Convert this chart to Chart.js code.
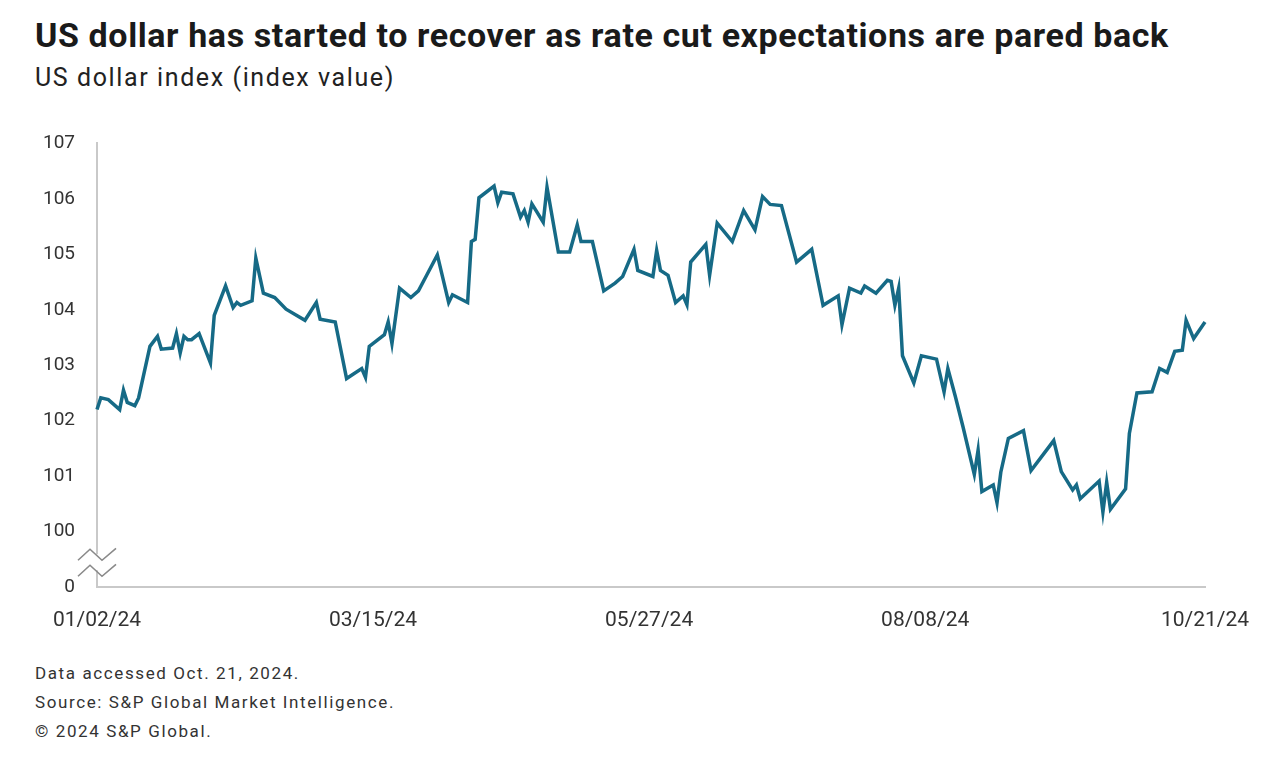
<!DOCTYPE html>
<html>
<head>
<meta charset="utf-8">
<script src="https://cdn.jsdelivr.net/npm/chart.js@4.4.1/dist/chart.umd.min.js"></script>
<style>
  html, body { margin: 0; padding: 0; background: #fff; }
  body { width: 1280px; height: 770px; position: relative; overflow: hidden; font-family: Roboto, "Liberation Sans", sans-serif; color: #1a1a1a; }
  #title { position: absolute; left: 35px; top: 15px; font-size: 34px; line-height: 40px; font-weight: 700; white-space: nowrap; letter-spacing: 0.6px; }
  #subtitle { position: absolute; left: 35px; top: 63px; font-size: 25px; line-height: 30px; font-weight: 400; color: #222; white-space: nowrap; letter-spacing: 1.6px; }
  #wrap { position: absolute; left: 0; top: 110px; width: 1280px; height: 540px; }
  #footer { position: absolute; left: 35px; top: 659px; font-size: 17px; line-height: 29px; color: #333; letter-spacing: 1.6px; }
</style>
</head>
<body>
<div id="title">US dollar has started to recover as rate cut expectations are pared back</div>
<div id="subtitle">US dollar index (index value)</div>
<div id="wrap"><canvas id="dxyChart"></canvas></div>
<div id="footer">
  Data accessed Oct. 21, 2024.<br>
  Source: S&amp;P Global Market Intelligence.<br>
  &copy; 2024 S&amp;P Global.
</div>
<script>
// days since 01/02/24
var days = [0,1,3,6,7,8,10,11,14,16,17,20,21,22,23,24,25,27,30,31,34,36,37,38,41,42,44,47,50,55,
  58,59,63,66,70,71,72,76,77,78,80,83,85,87,90,93,94,98,99,100,101,105,106,107,110,112,113,114,115,118,
  119,122,125,127,128,131,134,137,139,142,143,147,148,149,151,153,155,156,157,161,162,164,168,171,174,176,178,181,185,189,
  192,196,197,199,202,203,206,209,210,211,212,213,216,218,222,224,225,227,229,232,233,234,237,238,239,241,245,247,253,255,
  258,259,260,265,266,267,268,272,273,275,279,281,283,285,287,288,290,293];

var dxy = [102.20,102.41,102.38,102.20,102.55,102.33,102.27,102.41,103.34,103.52,103.29,103.31,103.57,103.22,103.52,103.46,103.46,103.57,103.04,103.90,
  104.43,104.04,104.13,104.08,104.16,104.93,104.30,104.22,104.01,103.81,
  104.13,103.83,103.78,102.76,102.94,102.78,103.34,103.55,103.78,103.39,104.39,104.22,104.34,104.60,104.99,104.13,104.27,104.13,105.23,105.27,
  106.02,106.23,105.93,106.12,106.09,105.67,105.79,105.58,105.91,105.58,
  106.21,105.04,105.04,105.53,105.23,105.23,104.34,104.48,104.60,105.09,104.71,104.60,105.07,104.71,104.62,104.13,104.25,104.09,104.86,105.18,
  104.62,105.56,105.23,105.79,105.44,106.04,105.90,105.88,104.86,105.09,
  104.08,104.25,103.73,104.39,104.30,104.43,104.30,104.53,104.51,104.08,104.39,103.17,102.68,103.17,103.11,102.52,102.94,102.43,101.89,101.03,
  101.47,100.72,100.84,100.52,101.07,101.68,101.82,101.10,101.64,101.08,
  100.75,100.84,100.59,100.91,100.35,100.89,100.40,100.77,101.77,102.50,102.52,102.94,102.87,103.25,103.27,103.81,103.48,103.78];

var tickDays = [0, 73, 146, 219, 293];
var tickLabels = ['01/02/24', '03/15/24', '05/27/24', '08/08/24', '10/21/24'];
var yTicks = [99, 100, 101, 102, 103, 104, 105, 106, 107]; // 99 stands in for the broken-axis "0"

var points = days.map(function (d, i) { return { x: d, y: dxy[i] }; });

// zigzag marks for the axis break
var axisBreak = {
  id: 'axisBreak',
  afterDraw: function (chart) {
    var ctx = chart.ctx;
    var y = chart.scales.y;
    var x0 = chart.chartArea.left;
    var yTop = y.getPixelForValue(99.5) - 5;
    var yBot = yTop + 16;
    ctx.save();
    ctx.fillStyle = '#fff';
    ctx.fillRect(x0 - 4, yTop, 8, yBot - yTop);
    ctx.strokeStyle = '#8a8a8a';
    ctx.lineWidth = 1.6;
    [yTop, yBot].forEach(function (yy) {
      ctx.beginPath();
      ctx.moveTo(x0 - 19, yy + 6);
      ctx.lineTo(x0 - 7, yy - 5);
      ctx.lineTo(x0 + 5, yy + 6);
      ctx.lineTo(x0 + 19, yy - 6);
      ctx.stroke();
    });
    ctx.restore();
  }
};

new Chart(document.getElementById('dxyChart').getContext('2d'), {
  type: 'line',
  data: {
    datasets: [{
      data: points,
      borderColor: '#166a86',
      borderWidth: 3.5,
      pointRadius: 0,
      tension: 0,
      fill: false,
      clip: false
    }]
  },
  options: {
    responsive: true,
    maintainAspectRatio: false,
    animation: false,
    layout: { padding: { left: 0, right: 75, top: 21, bottom: 0 } },
    plugins: { legend: { display: false }, tooltip: { enabled: false } },
    scales: {
      x: {
        type: 'linear',
        min: 0,
        max: 293,
        afterBuildTicks: function (s) { s.ticks = tickDays.map(function (v) { return { value: v }; }); },
        afterFit: function (s) { s.height = 63; },
        grid: { display: false, drawTicks: false },
        border: { display: true, color: '#c9c9c9', width: 2 },
        ticks: {
          padding: 21,
          maxRotation: 0,
          autoSkip: false,
          color: '#333',
          font: { family: 'Roboto', size: 21 },
          callback: function (v) { var i = tickDays.indexOf(v); return i < 0 ? '' : tickLabels[i]; }
        }
      },
      y: {
        min: 99,
        max: 107,
        afterBuildTicks: function (s) { s.ticks = yTicks.map(function (v) { return { value: v }; }); },
        afterFit: function (s) { s.width = 97; },
        grid: { display: false, drawTicks: false },
        border: { display: true, color: '#c9c9c9', width: 2 },
        ticks: {
          padding: 22,
          color: '#333',
          font: { family: 'Roboto', size: 19 },
          callback: function (v) { return v === 99 ? '0' : String(v); }
        }
      }
    }
  },
  plugins: [axisBreak]
});
</script>
</body>
</html>
